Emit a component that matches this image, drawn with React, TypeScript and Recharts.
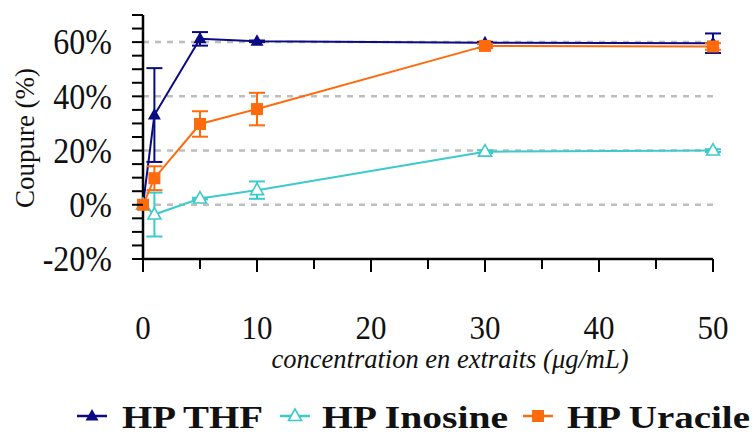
import React from 'react';
import { LineChart, Line, XAxis, YAxis, ReferenceLine, ErrorBar, Label } from 'recharts';

// concentrations (µg/mL) and % coupure
const concentrations = [0, 1, 5, 10, 30, 50];
const thf = [0, 33.1, 61.2, 60.3, 59.8, 59.6];
const thfErr = [0, 17.3, 2.5, 0.3, 0.3, 3.6];
const inosine = [0, -3.6, 2.3, 5.4, 19.6, 20.0];
const inosineErr = [0, 8.1, 0.3, 3.2, 0.5, 0.5];
const uracile = [0, 9.8, 29.8, 35.3, 58.6, 58.4];
const uracileErr = [0, 4.4, 4.7, 6.0, 0.8, 1.2];

const xTicks = [0, 5, 10, 15, 20, 25, 30, 35, 40, 45, 50];
const yTicks = [-20, -15, -10, -5, 0, 5, 10, 15, 20, 25, 30, 35, 40, 45, 50, 55, 60, 65, 70];
const gridValues = [0, 20, 40, 60];
const seriesNames = ['HP THF', 'HP Inosine', 'HP Uracile'];

const NAVY = '#0a0a82';
const TURQ = '#3ccaca';
const ORANGE = '#ff6a0d';
const serif = { fontFamily: 'Liberation Serif' };

const data = concentrations.map((c, i) => ({
  c,
  thf: thf[i],
  thfErr: thfErr[i],
  inosine: inosine[i],
  inosineErr: inosineErr[i],
  uracile: uracile[i],
  uracileErr: uracileErr[i],
}));

const triPath = (cx: number, cy: number) =>
  `M${cx},${cy - 7}L${cx + 6.5},${cy + 4.5}L${cx - 6.5},${cy + 4.5}Z`;

const ThfDot = (props: any) => {
  const { cx, cy, index } = props;
  if (cx == null || cy == null) return null;
  return <path key={`t-${index}`} d={triPath(cx, cy)} fill={NAVY} />;
};

const InosineDot = (props: any) => {
  const { cx, cy, index } = props;
  if (cx == null || cy == null) return null;
  return <path key={`i-${index}`} d={triPath(cx, cy)} fill="#fff" stroke={TURQ} strokeWidth={1.6} />;
};

const UracileDot = (props: any) => {
  const { cx, cy, index } = props;
  if (cx == null || cy == null) return null;
  return <rect key={`u-${index}`} x={cx - 6} y={cy - 6} width={12} height={12} fill={ORANGE} />;
};

const YTick = (props: any) => {
  const { x, y, payload } = props;
  const v = payload.value;
  return (
    <g>
      <line x1={x - 11} x2={x} y1={y} y2={y} stroke="#000" strokeWidth={2} />
      {v % 20 === 0 && (
        <text
          transform={`translate(${x - 31},${y}) scale(1,1.12)`}
          textAnchor="end"
          dy="0.34em"
          style={{ ...serif, fontSize: 32 }}
          fill="#111"
        >
          {`${v}%`}
        </text>
      )}
    </g>
  );
};

const XTick = (props: any) => {
  const { x, y, payload } = props;
  const v = payload.value;
  const major = v % 10 === 0;
  return (
    <g>
      <line x1={x} x2={x} y1={y} y2={y + (major ? 13 : 10)} stroke="#000" strokeWidth={2} />
      {major && (
        <text
          transform={`translate(${x},${y + 68}) scale(1,1.12)`}
          textAnchor="middle"
          dy="0.34em"
          style={{ ...serif, fontSize: 31 }}
          fill="#111"
        >
          {v}
        </text>
      )}
    </g>
  );
};

const legendLayout = [
  { color: NAVY, lineX: 77, textX: 122, textW: 141 },
  { color: TURQ, lineX: 280, textX: 322, textW: 186 },
  { color: ORANGE, lineX: 523, textX: 567, textW: 183 },
];

const LegendMarker = ({ i, cx, cy }: { i: number; cx: number; cy: number }) => {
  if (i === 0) return <path d={triPath(cx, cy)} fill={NAVY} />;
  if (i === 1) return <path d={triPath(cx, cy)} fill="#fff" stroke={TURQ} strokeWidth={1.6} />;
  return <rect x={cx - 6} y={cy - 6} width={12} height={12} fill={ORANGE} />;
};

export default function App() {
  return (
    <div style={{ position: 'absolute', left: 0, top: 0, width: 756, height: 435, background: '#fff' }}>
      <LineChart
        width={756}
        height={435}
        data={data}
        margin={{ top: 15, right: 43, left: 0, bottom: 76 }}
      >
        <XAxis
          dataKey="c"
          type="number"
          domain={[0, 50]}
          ticks={xTicks}
          interval={0}
          tickLine={false}
          tickSize={0}
          tickMargin={0}
          tick={<XTick />}
          height={100}
          axisLine={{ stroke: '#000', strokeWidth: 2.5 }}
          label={
            <Label
              content={(p: any) => {
                const vb = p.viewBox;
                return (
                  <text
                    x={vb.x + vb.width / 2 + 22}
                    y={vb.y + 109}
                    textAnchor="middle"
                    style={{ ...serif, fontStyle: 'italic', fontSize: 26.5 }}
                    fill="#111"
                  >
                    concentration en extraits (μg/mL)
                  </text>
                );
              }}
            />
          }
        />
        <YAxis
          type="number"
          domain={[-20, 70]}
          ticks={yTicks}
          interval={0}
          width={143}
          tickLine={false}
          tickSize={0}
          tickMargin={0}
          tick={<YTick />}
          axisLine={{ stroke: '#000', strokeWidth: 2.5 }}
          label={
            <Label
              content={() => (
                <text
                  transform="translate(34,138) rotate(-90)"
                  textAnchor="middle"
                  style={{ ...serif, fontSize: 27 }}
                  fill="#111"
                >
                  Coupure (%)
                </text>
              )}
            />
          }
        />
        {gridValues.map((v) => (
          <ReferenceLine key={v} y={v} stroke="#bdbdbd" strokeWidth={2.5} strokeDasharray="6 6" />
        ))}
        <Line
          dataKey="thf"
          name={seriesNames[0]}
          stroke={NAVY}
          strokeWidth={2}
          dot={ThfDot}
          activeDot={false}
          isAnimationActive={false}
        >
          <ErrorBar dataKey="thfErr" width={8} stroke={NAVY} strokeWidth={2} direction="y" />
        </Line>
        <Line
          dataKey="inosine"
          name={seriesNames[1]}
          stroke={TURQ}
          strokeWidth={2}
          dot={InosineDot}
          activeDot={false}
          isAnimationActive={false}
        >
          <ErrorBar dataKey="inosineErr" width={8} stroke={TURQ} strokeWidth={2} direction="y" />
        </Line>
        <Line
          dataKey="uracile"
          name={seriesNames[2]}
          stroke={ORANGE}
          strokeWidth={2}
          dot={UracileDot}
          activeDot={false}
          isAnimationActive={false}
        >
          <ErrorBar dataKey="uracileErr" width={8} stroke={ORANGE} strokeWidth={2} direction="y" />
        </Line>
      </LineChart>
      <svg width={756} height={45} style={{ position: 'absolute', left: 0, top: 390 }}>
        {legendLayout.map((l, i) => (
          <g key={i}>
            <line x1={l.lineX} x2={l.lineX + 30} y1={26} y2={26} stroke={l.color} strokeWidth={2.5} />
            <LegendMarker i={i} cx={l.lineX + 15} cy={26} />
            <text
              x={l.textX}
              y={38}
              textLength={l.textW}
              lengthAdjust="spacingAndGlyphs"
              style={{ ...serif, fontWeight: 'bold', fontSize: 32 }}
              fill="#111"
            >
              {seriesNames[i]}
            </text>
          </g>
        ))}
      </svg>
    </div>
  );
}
